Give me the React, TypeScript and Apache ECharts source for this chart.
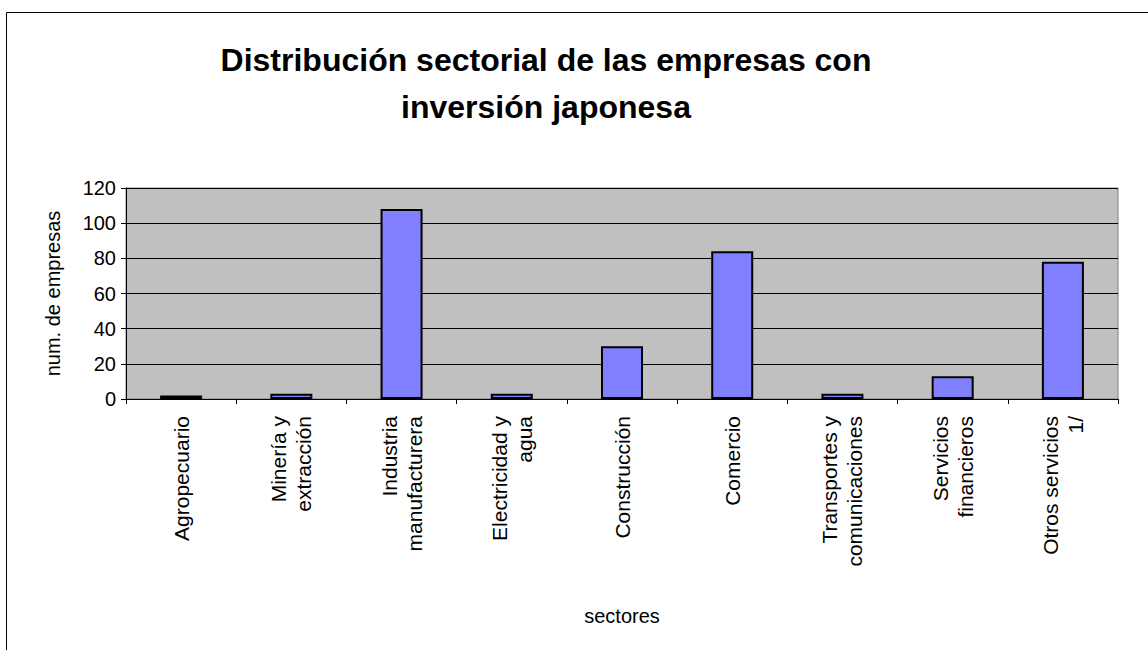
import React, { useEffect, useRef } from "react";
import * as echarts from "echarts";

const titleLines = ["Distribución sectorial de las empresas con", "inversión japonesa"];
const categories = [
  "Agropecuario",
  "Minería y\nextracción",
  "Industria\nmanufacturera",
  "Electricidad y\nagua",
  "Construcción",
  "Comercio",
  "Transportes y\ncomunicaciones",
  "Servicios\nfinancieros",
  "Otros servicios\n1/",
];
const values = [2, 3, 108, 3, 30, 84, 3, 13, 78];
const yTicks = { min: 0, max: 120, interval: 20 };
const yName = "num. de empresas";
const xName = "sectores";

const FONT = "'Liberation Sans', Arial, sans-serif";

export default function App() {
  const ref = useRef<HTMLDivElement>(null);
  useEffect(() => {
    const chart = echarts.init(ref.current!, null, { renderer: "svg" });
    chart.setOption({
      animation: false,
      backgroundColor: "#ffffff",
      textStyle: { fontFamily: FONT },
      title: {
        text: titleLines.join("\n"),
        left: 541,
        textAlign: "center",
        top: 31,
        textStyle: {
          fontFamily: FONT,
          fontSize: 32,
          fontWeight: "bold",
          color: "#000",
          lineHeight: 47,
        },
      },
      graphic: [
        {
          type: "rect",
          shape: { x: 6.5, y: 12.5, width: 1200, height: 700 },
          style: { fill: "none", stroke: "#000", lineWidth: 1 },
          silent: true,
        },
      ],
      grid: {
        left: 126,
        top: 188,
        right: 30,
        bottom: 251,
        show: true,
        backgroundColor: "#C0C0C0",
        borderColor: "#808080",
        borderWidth: 1,
      },
      xAxis: {
        type: "category",
        data: categories,
        name: xName,
        nameLocation: "middle",
        nameGap: 207,
        nameTextStyle: { fontFamily: FONT, fontSize: 20, color: "#000", verticalAlign: "top" },
        axisLine: { show: true, lineStyle: { color: "#000", width: 1 } },
        axisTick: { show: true, length: 5, inside: false, lineStyle: { color: "#000" } },
        axisLabel: {
          rotate: 90,
          margin: 17,
          fontFamily: FONT,
          fontSize: 21,
          color: "#000",
          lineHeight: 25,
          interval: 0,
        },
        splitLine: { show: false },
      },
      yAxis: {
        type: "value",
        min: yTicks.min,
        max: yTicks.max,
        interval: yTicks.interval,
        name: yName,
        nameLocation: "middle",
        nameGap: 63,
        nameRotate: 90,
        nameTextStyle: { fontFamily: FONT, fontSize: 20, color: "#000" },
        axisLine: { show: true, lineStyle: { color: "#000", width: 1 } },
        axisTick: { show: true, length: 5, lineStyle: { color: "#000" } },
        axisLabel: { fontFamily: FONT, fontSize: 20, color: "#000", margin: 10 },
        splitLine: { show: true, lineStyle: { color: "#000", width: 1 } },
      },
      series: [
        {
          type: "bar",
          data: values,
          barWidth: 42,
          itemStyle: { color: "#8080FF", borderColor: "#000", borderWidth: 2 },
        },
      ],
    });
    return () => chart.dispose();
  }, []);
  return (
    <div
      ref={ref}
      style={{ position: "fixed", left: 0, top: 0, width: 1148, height: 650 }}
    />
  );
}
